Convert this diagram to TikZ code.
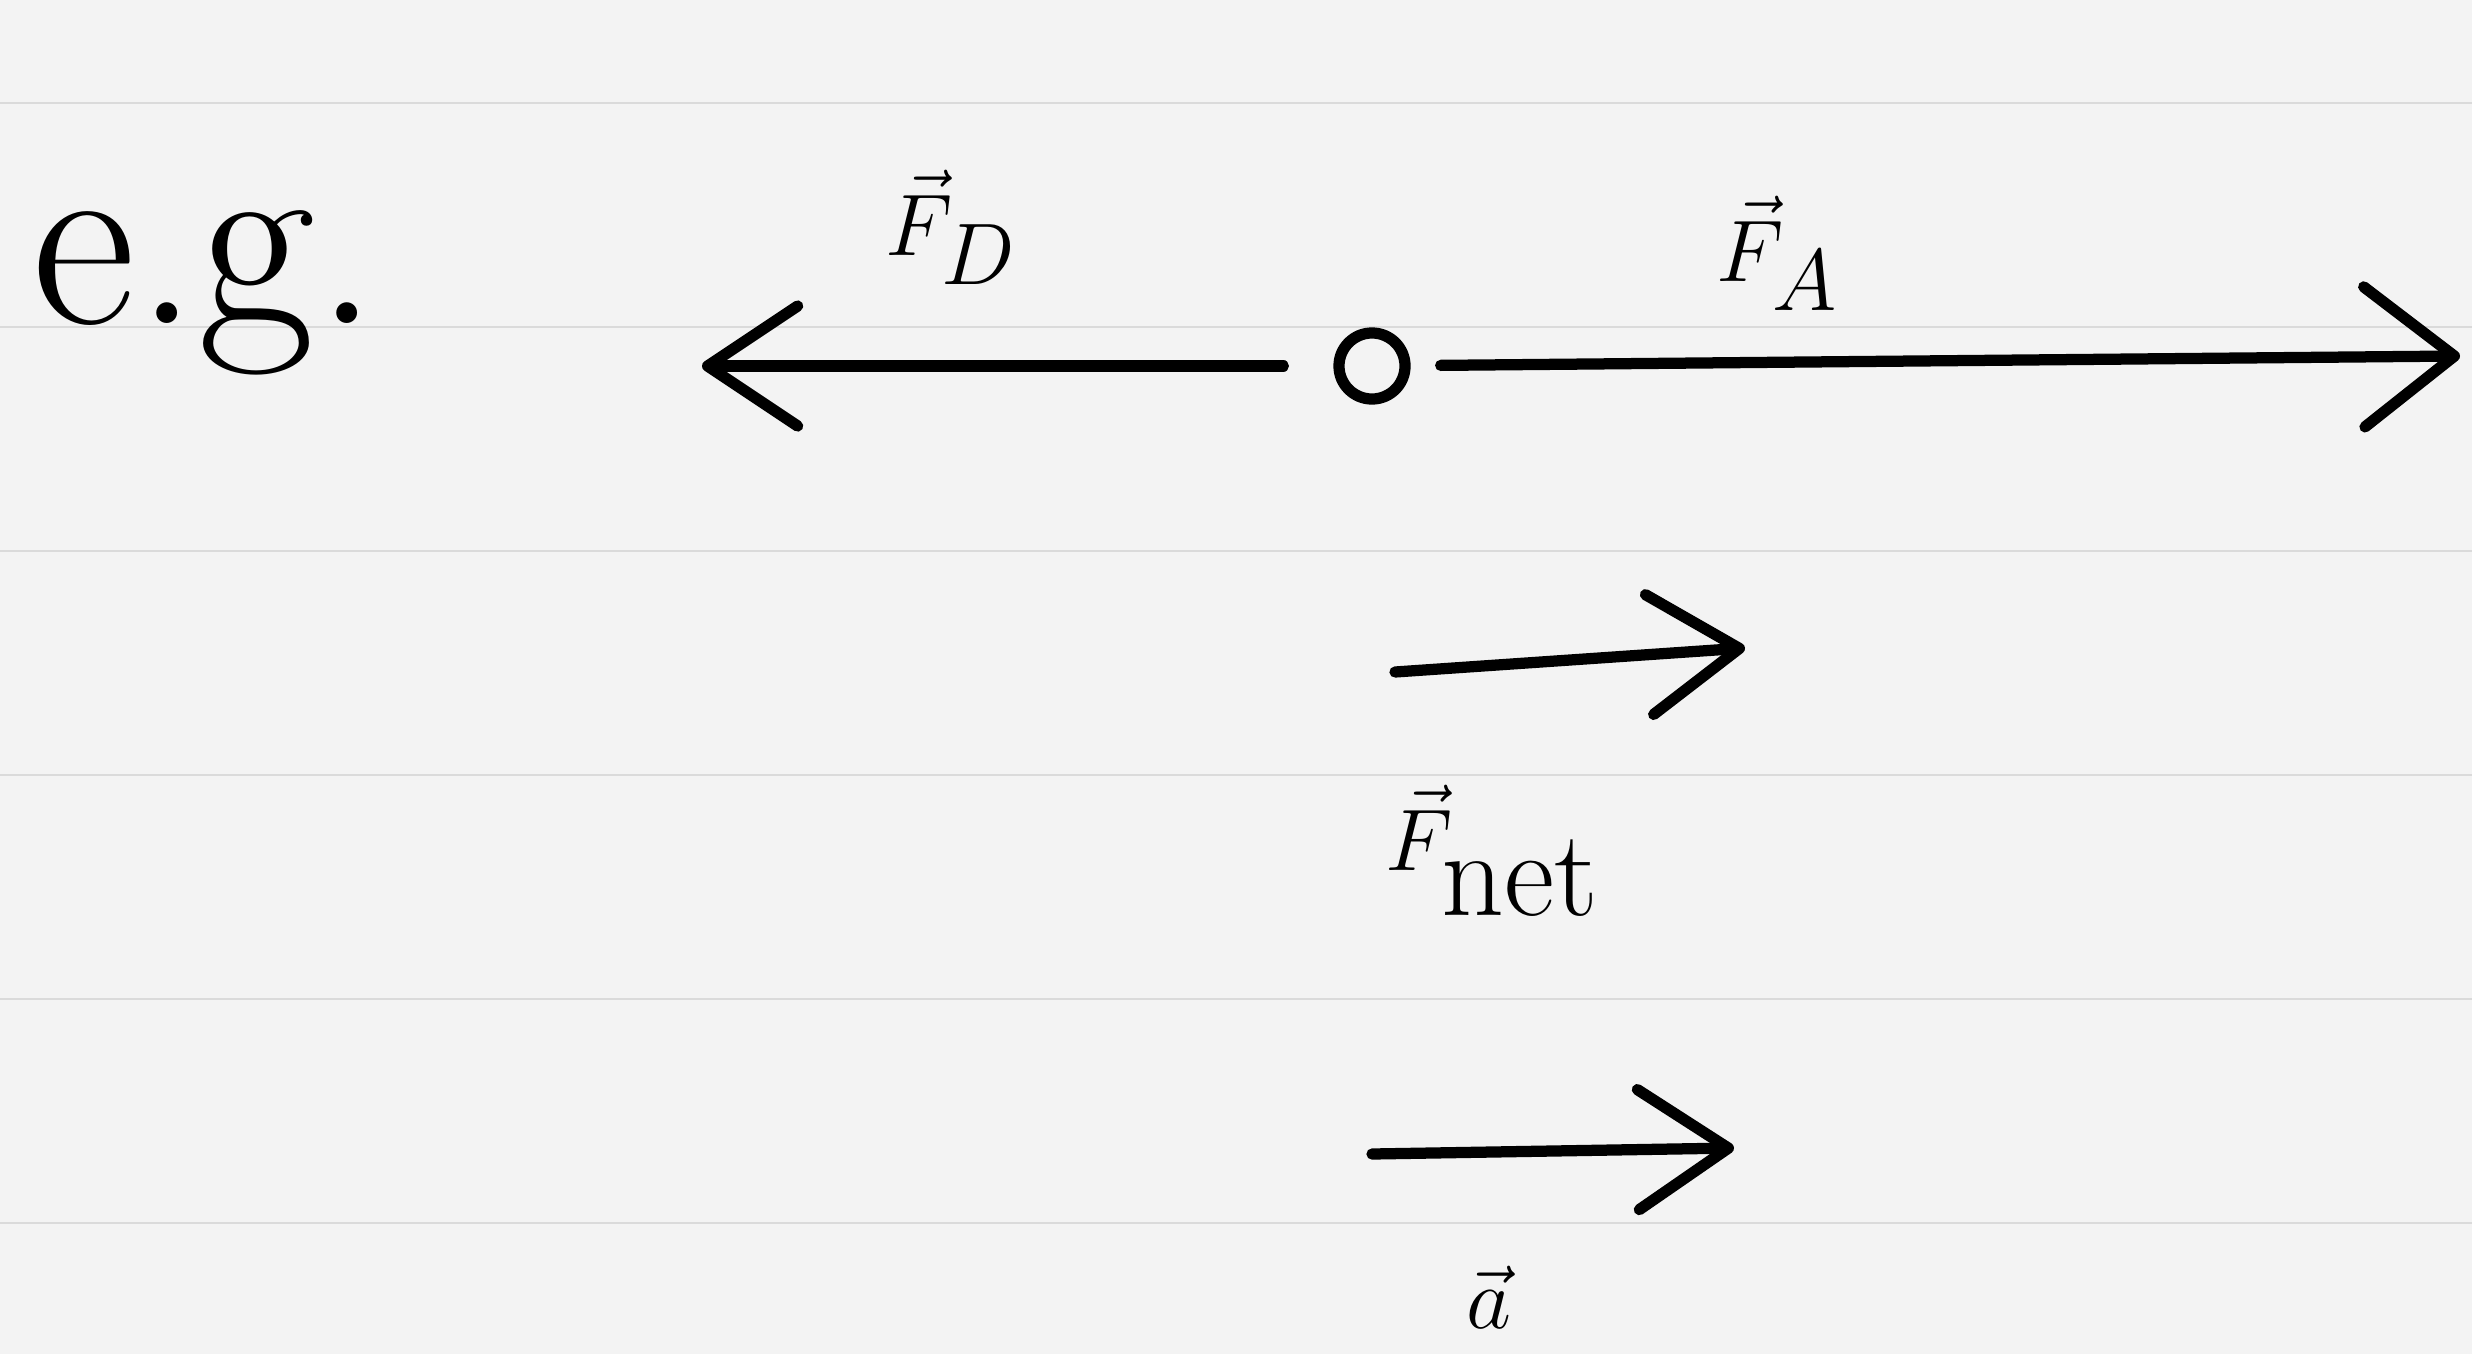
\documentclass[tikz,border=0pt]{standalone}
\usepackage{amsmath}
\usetikzlibrary{arrows.meta}
\definecolor{paper}{HTML}{F3F3F3}
\definecolor{ruling}{HTML}{DADADA}

\begin{document}
\begin{tikzpicture}[x=0.01cm, y=-0.01cm,
  >={Straight Barb[length=9mm, width=12mm, round]},
  vec/.style={->, line width=3.2pt, line cap=round},
  lbl/.style={font=\fontsize{50}{60}\selectfont, inner sep=0pt, anchor=base west},
  obj/.style={circle, draw, line width=3.2pt, minimum size=6.6mm, inner sep=0pt}]
\fill[paper] (0,0) rectangle (2472,1354);
\useasboundingbox (0,0) rectangle (2472,1354);
\foreach \y in {103,327,551,775,999,1223}
  \draw[ruling, line width=0.6pt] (0,\y) -- (2472,\y);
% free body
\node[font=\fontsize{72}{80}\selectfont, inner sep=0pt, anchor=base west] (eg) at (32,323) {e.g.};
\node[obj] (obj) at (1372,366) {};
\coordinate (fdtip) at (702,366);
\coordinate (fatip) at (2460,356);
\draw[vec, shorten <=5mm] (obj) -- (fdtip);
\draw[vec, shorten <=3mm, {>}={Straight Barb[length=9mm, width=14mm, round]}] (obj) -- (fatip);
\node[lbl] (fd) at (885,255) {$\vec{F}_{D}$};
\node[lbl] (fa) at (1716,281) {$\vec{F}_{A}$};
% net force and acceleration
\coordinate (net0) at (1395,672);
\coordinate (net1) at (1745,648);
\draw[vec] (net0) -- (net1);
\node[lbl] (fnet) at (1385,870) {$\vec{F}_{\text{net}}$};
\coordinate (acc0) at (1372,1154);
\coordinate (acc1) at (1734,1148);
\draw[vec] (acc0) -- (acc1);
\node[lbl] (acc) at (1466,1328) {$\vec{a}$};
\end{tikzpicture}
\end{document}
